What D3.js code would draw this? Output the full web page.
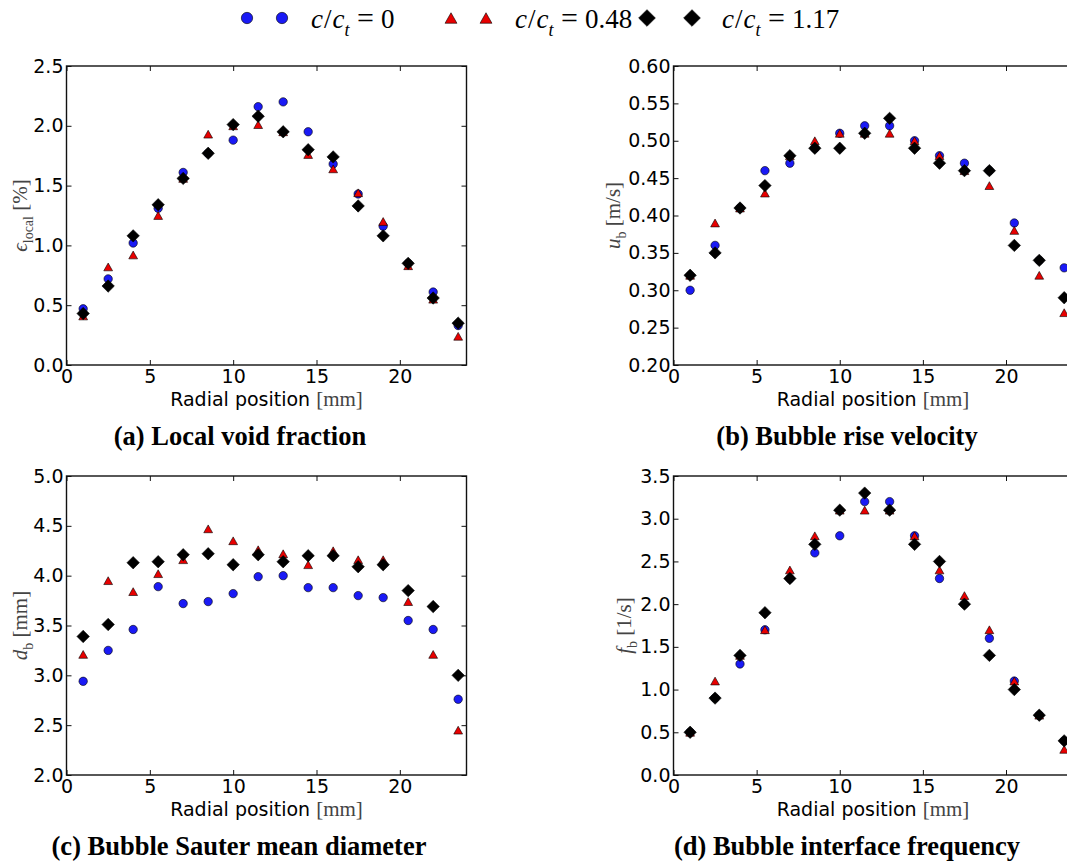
<!DOCTYPE html>
<html><head><meta charset="utf-8">
<script src="https://cdn.jsdelivr.net/npm/d3@7"></script>
<style>body{margin:0;background:#fff;overflow:hidden}</style>
</head><body><svg id="c" width="1067" height="863"></svg>
<script>
// ---------- data ----------
const radialPositions = [1, 2.5, 4, 5.5, 7, 8.5, 10, 11.5, 13, 14.5, 16, 17.5, 19, 20.5, 22, 23.5];
const seriesLabels = ["0", "0.48", "1.17"];

const voidC0   = [0.47, 0.72, 1.02, 1.31, 1.61, 1.77, 1.88, 2.16, 2.20, 1.95, 1.68, 1.43, 1.16, 0.85, 0.61, 0.33];
const voidC048 = [0.41, 0.82, 0.92, 1.25, 1.56, 1.93, 2.00, 2.01, 1.95, 1.76, 1.64, 1.44, 1.20, 0.83, 0.55, 0.24];
const voidC117 = [0.43, 0.66, 1.08, 1.34, 1.56, 1.77, 2.01, 2.08, 1.95, 1.80, 1.74, 1.33, 1.08, 0.85, 0.56, 0.35];

const velC0   = [0.30, 0.36, 0.41, 0.46, 0.47, 0.49, 0.51, 0.52, 0.52, 0.50, 0.48, 0.47, 0.46, 0.39, 0.34, 0.33];
const velC048 = [0.32, 0.39, 0.41, 0.43, 0.48, 0.50, 0.51, 0.51, 0.51, 0.50, 0.48, 0.46, 0.44, 0.38, 0.32, 0.27];
const velC117 = [0.32, 0.35, 0.41, 0.44, 0.48, 0.49, 0.49, 0.51, 0.53, 0.49, 0.47, 0.46, 0.46, 0.36, 0.34, 0.29];

const diamC0   = [2.94, 3.25, 3.46, 3.89, 3.72, 3.74, 3.82, 3.99, 4.00, 3.88, 3.88, 3.80, 3.78, 3.55, 3.46, 2.76];
const diamC048 = [3.21, 3.95, 3.84, 4.02, 4.16, 4.47, 4.35, 4.26, 4.22, 4.11, 4.25, 4.16, 4.16, 3.74, 3.21, 2.45];
const diamC117 = [3.39, 3.51, 4.13, 4.14, 4.21, 4.22, 4.11, 4.21, 4.14, 4.20, 4.20, 4.09, 4.11, 3.85, 3.69, 3.00];

const freqC0   = [0.5, 0.9, 1.3, 1.7, 2.3, 2.6, 2.8, 3.2, 3.2, 2.8, 2.3, 2.0, 1.6, 1.1, 0.7, 0.4];
const freqC048 = [0.5, 1.1, 1.4, 1.7, 2.4, 2.8, 3.1, 3.1, 3.1, 2.8, 2.4, 2.1, 1.7, 1.1, 0.7, 0.3];
const freqC117 = [0.5, 0.9, 1.4, 1.9, 2.3, 2.7, 3.1, 3.3, 3.1, 2.7, 2.5, 2.0, 1.4, 1.0, 0.7, 0.4];

const xTicks = [0, 5, 10, 15, 20];
const voidTicks = [0, 0.5, 1.0, 1.5, 2.0, 2.5];
const velTicks = [0.20, 0.25, 0.30, 0.35, 0.40, 0.45, 0.50, 0.55, 0.60];
const diamTicks = [2.0, 2.5, 3.0, 3.5, 4.0, 4.5, 5.0];
const freqTicks = [0, 0.5, 1.0, 1.5, 2.0, 2.5, 3.0, 3.5];

const captions = ["(a) Local void fraction", "(b) Bubble rise velocity",
                  "(c) Bubble Sauter mean diameter", "(d) Bubble interface frequency"];

// ---------- styling ----------
const colors = ["#1a1af5", "#e80000", "#000000"];
const shapes = ["circle", "triangle", "diamond"];

const svg = d3.select("#c");

function markerPath(shape, s) {
  const p = d3.path();
  if (shape === "circle") {
    const r = 4.2 * s; p.moveTo(r, 0); p.arc(0, 0, r, 0, 2 * Math.PI);
  } else if (shape === "triangle") {
    const w = 4.4 * s, h = 3.9 * s;
    p.moveTo(0, -h); p.lineTo(w, h); p.lineTo(-w, h); p.closePath();
  } else {
    const d = 6.2 * s;
    p.moveTo(0, -d); p.lineTo(d, 0); p.lineTo(0, d); p.lineTo(-d, 0); p.closePath();
  }
  return p.toString();
}

function mathText(g, x, y, parts, opts) {
  const t = g.append("text").attr("x", x).attr("y", y)
    .attr("font-family", "'Liberation Serif','Times New Roman',serif")
    .attr("font-size", opts.size).attr("fill", opts.fill || "#000");
  if (opts.anchor) t.attr("text-anchor", opts.anchor);
  if (opts.transform) t.attr("transform", opts.transform);
  let shifted = 0;
  parts.forEach(p => {
    const ts = t.append("tspan").text(p.t);
    if (p.italic) ts.attr("font-style", "italic");
    if (p.size) ts.attr("font-size", p.size);
    if (p.x !== undefined) ts.attr("x", p.x);
    const target = p.sub ? opts.size * 0.3 : 0;
    if (target !== shifted) { ts.attr("dy", target - shifted); shifted = target; }
    if (p.dx) ts.attr("dx", p.dx);
  });
  return t;
}

// ---------- panels ----------
const panels = [
  { left: 66.5, top: 66, w: 400, h: 299, domain: [0, 2.5], ticks: voidTicks, fmt: ".1f",
    series: [voidC0, voidC048, voidC117], caption: captions[0], capX: 240, capY: 445,
    ylab: [{t: "\u03F5", italic: true}, {t: "local", sub: true, size: 14}, {t: " [%]"}], ylabX: 27 },
  { left: 673.5, top: 66, w: 399, h: 299, domain: [0.2, 0.6], ticks: velTicks, fmt: ".2f",
    series: [velC0, velC048, velC117], caption: captions[1], capX: 847, capY: 445,
    ylab: [{t: "u", italic: true}, {t: "b", sub: true, size: 14}, {t: " [m/s]"}], ylabX: 620 },
  { left: 66.5, top: 476, w: 400, h: 299, domain: [2, 5], ticks: diamTicks, fmt: ".1f",
    series: [diamC0, diamC048, diamC117], caption: captions[2], capX: 239, capY: 855,
    ylab: [{t: "d", italic: true}, {t: "b", sub: true, size: 14}, {t: " [mm]"}], ylabX: 27 },
  { left: 673.5, top: 476, w: 399, h: 299, domain: [0, 3.5], ticks: freqTicks, fmt: ".1f",
    series: [freqC0, freqC048, freqC117], caption: captions[3], capX: 847, capY: 855,
    ylab: [{t: "f", italic: true}, {t: "b", sub: true, size: 14}, {t: " [1/s]"}], ylabX: 631 }
];

panels.forEach(P => {
  const g = svg.append("g").attr("transform", `translate(${P.left},${P.top})`);
  const x = d3.scaleLinear().domain([0, 24]).range([0, P.w]);
  const y = d3.scaleLinear().domain(P.domain).range([P.h, 0]);

  const styleAxis = sel => {
    sel.select(".domain").remove();
    sel.selectAll(".tick line").attr("stroke", "#111").attr("stroke-width", 1);
    sel.selectAll(".tick text").attr("font-family", "'DejaVu Sans',sans-serif")
      .attr("font-size", 19).attr("fill", "#000");
  };

  g.append("g").attr("transform", `translate(0,${P.h})`)
    .call(d3.axisBottom(x).tickValues(xTicks).tickFormat(d3.format("d")).tickSize(-5).tickPadding(4))
    .call(styleAxis);
  g.append("g")
    .call(d3.axisTop(x).tickValues(xTicks).tickFormat("").tickSize(-5))
    .call(styleAxis);
  g.append("g")
    .call(d3.axisLeft(y).tickValues(P.ticks).tickFormat(d3.format(P.fmt)).tickSize(-5).tickPadding(3))
    .call(styleAxis);
  g.append("g").attr("transform", `translate(${P.w},0)`)
    .call(d3.axisRight(y).tickValues(P.ticks).tickFormat("").tickSize(-5))
    .call(styleAxis);

  g.append("rect").attr("x", 0).attr("y", 0).attr("width", P.w).attr("height", P.h)
    .attr("fill", "none").attr("stroke", "#111").attr("stroke-width", 1.4);

  P.series.forEach((vals, si) => {
    g.append("g").selectAll("path")
      .data(vals.map((v, i) => [radialPositions[i], v]))
      .join("path")
      .attr("d", markerPath(shapes[si], 1))
      .attr("transform", d => `translate(${x(d[0])},${y(d[1])})`)
      .attr("fill", colors[si]).attr("stroke", "#000").attr("stroke-width", 0.6);
  });

  // x label
  const xl = g.append("text").attr("x", P.w / 2).attr("y", P.h + 41).attr("text-anchor", "middle");
  xl.append("tspan").text("Radial position ").attr("font-family", "'DejaVu Sans',sans-serif")
    .attr("font-size", 19).attr("fill", "#000");
  xl.append("tspan").text("[mm]").attr("font-family", "'Liberation Serif',serif")
    .attr("font-size", 21).attr("fill", "#444");

  // y label
  const cy = P.top + P.h / 2;
  mathText(svg, 0, 0, P.ylab, { size: 21, fill: "#444", anchor: "middle",
    transform: `translate(${P.ylabX},${cy}) rotate(-90)` });

  // caption
  svg.append("text").attr("x", P.capX).attr("y", P.capY).attr("text-anchor", "middle")
    .attr("font-family", "'Liberation Serif','Times New Roman',serif")
    .attr("font-weight", "bold").attr("font-size", 26.5).text(P.caption);
});

// ---------- legend ----------
const legendItems = [
  { m1: 247, m2: 282, tx: 311 },
  { m1: 451, m2: 486, tx: 515 },
  { m1: 647, m2: 692, tx: 722 }
];
const leg = svg.append("g");
legendItems.forEach((L, i) => {
  [L.m1, L.m2].forEach(mx => {
    leg.append("path").attr("d", markerPath(shapes[i], 1.35))
      .attr("transform", `translate(${mx},18)`)
      .attr("fill", colors[i]).attr("stroke", "#000").attr("stroke-width", 0.6);
  });
  mathText(leg, L.tx, 28, [
    {t: "c", italic: true}, {t: "/", dx: 1}, {t: "c", italic: true, dx: 1},
    {t: "t", italic: true, sub: true, size: 18},
    {t: "=", x: L.tx + 46, size: 30},
    {t: seriesLabels[i], x: L.tx + 70}
  ], { size: 27 });
});
</script>
</body></html>
